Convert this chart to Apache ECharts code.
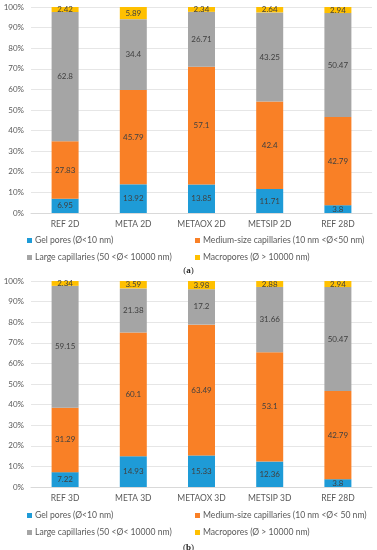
<!DOCTYPE html>
<html><head><meta charset="utf-8">
<script src="https://cdn.jsdelivr.net/npm/echarts@6/dist/echarts.min.js"></script>
<style>html,body{margin:0;padding:0;background:#fff}#c{width:377px;height:550px}</style>
</head><body><div id="c"></div>
<script>
var catsA = ['REF 2D','META 2D','METAOX 2D','METSIP 2D','REF 28D'];
var catsB = ['REF 3D','META 3D','METAOX 3D','METSIP 3D','REF 28D'];
var seriesNamesA = ['Gel pores (Ø<10 nm)','Medium-size capillaries (10 nm <Ø<50 nm)','Large capillaries (50 <Ø< 10000 nm)','Macropores (Ø > 10000 nm)'];
var seriesNamesB = ['Gel pores (Ø<10 nm) ','Medium-size capillaries (10 nm <Ø< 50 nm)','Large capillaries (50 <Ø< 10000 nm) ','Macropores (Ø > 10000 nm) '];
var gelA = [6.95, 13.92, 13.85, 11.71, 3.8];
var medA = [27.83, 45.79, 57.1, 42.4, 42.79];
var largeA = [62.8, 34.4, 26.71, 43.25, 50.47];
var macroA = [2.42, 5.89, 2.34, 2.64, 2.94];
var gelB = [7.22, 14.93, 15.33, 12.36, 3.8];
var medB = [31.29, 60.1, 63.49, 53.1, 42.79];
var largeB = [59.15, 21.38, 17.2, 31.66, 50.47];
var macroB = [2.34, 3.59, 3.98, 2.88, 2.94];
var yTicks = [0,10,20,30,40,50,60,70,80,90,100];

var colors = ['#1E9BD7','#F98026','#A5A5A5','#FFC000'];
var font = 'Lato';
var chart = echarts.init(document.getElementById('c'));

function mkSeries(names, arrs, idx){
  return arrs.map(function(d,i){
    return {
      name: names[i], type:'bar', stack:'s'+idx, xAxisIndex: idx, yAxisIndex: idx,
      data: d, barWidth: 27, itemStyle:{color: colors[i]},
      label:{show:true, position:'inside', color:'#404040', fontSize:8, fontFamily:font},
      emphasis:{disabled:true}
    };
  });
}
function mkX(cats, idx){
  return {type:'category', gridIndex: idx, data: cats,
    axisLine:{lineStyle:{color:'#D9D9D9'}}, axisTick:{show:false},
    axisLabel:{color:'#595959', fontSize:8.5, fontFamily:font, margin:7}};
}
function mkY(idx){
  return {type:'value', gridIndex: idx, min:0, max:100, interval:10,
    axisLabel:{color:'#595959', fontSize:8, fontFamily:font, margin:7,
      formatter:function(v){ return yTicks.indexOf(v) >= 0 ? v + '%' : ''; }},
    splitLine:{lineStyle:{color:'#E6E6E6'}}, axisLine:{show:false}, axisTick:{show:false}};
}
function mkLegend(data, left, top){
  return {data:data, orient:'vertical', left:left, top:top, itemWidth:5, itemHeight:5,
    icon:'rect', itemGap:8, selectedMode:false,
    textStyle:{color:'#595959', fontSize:8.6, fontFamily:font, padding:[0,0,0,-2]}};
}

chart.setOption({
  animation:false,
  grid:[
    {left:31, right:5, top:7, height:206},
    {left:31, right:5, top:281, height:206}
  ],
  xAxis:[mkX(catsA,0), mkX(catsB,1)],
  yAxis:[mkY(0), mkY(1)],
  legend:[
    mkLegend([seriesNamesA[0], seriesNamesA[2]], 22, 231),
    mkLegend([seriesNamesA[1], seriesNamesA[3]], 190, 231),
    mkLegend([seriesNamesB[0], seriesNamesB[2]], 22, 506),
    mkLegend([seriesNamesB[1], seriesNamesB[3]], 190, 506)
  ],
  title:[
    {text:'({b|a})', left:'center', top:261, textStyle:{fontSize:9, fontFamily:'Liberation Serif', color:'#222', fontWeight:'normal', rich:{b:{fontWeight:'bold', fontSize:9, fontFamily:'Liberation Serif', color:'#222'}}}},
    {text:'({b|b})', left:'center', top:538, textStyle:{fontSize:9, fontFamily:'Liberation Serif', color:'#222', fontWeight:'normal', rich:{b:{fontWeight:'bold', fontSize:9, fontFamily:'Liberation Serif', color:'#222'}}}}
  ],
  series: mkSeries(seriesNamesA, [gelA, medA, largeA, macroA], 0)
    .concat(mkSeries(seriesNamesB, [gelB, medB, largeB, macroB], 1))
});
</script></body></html>
